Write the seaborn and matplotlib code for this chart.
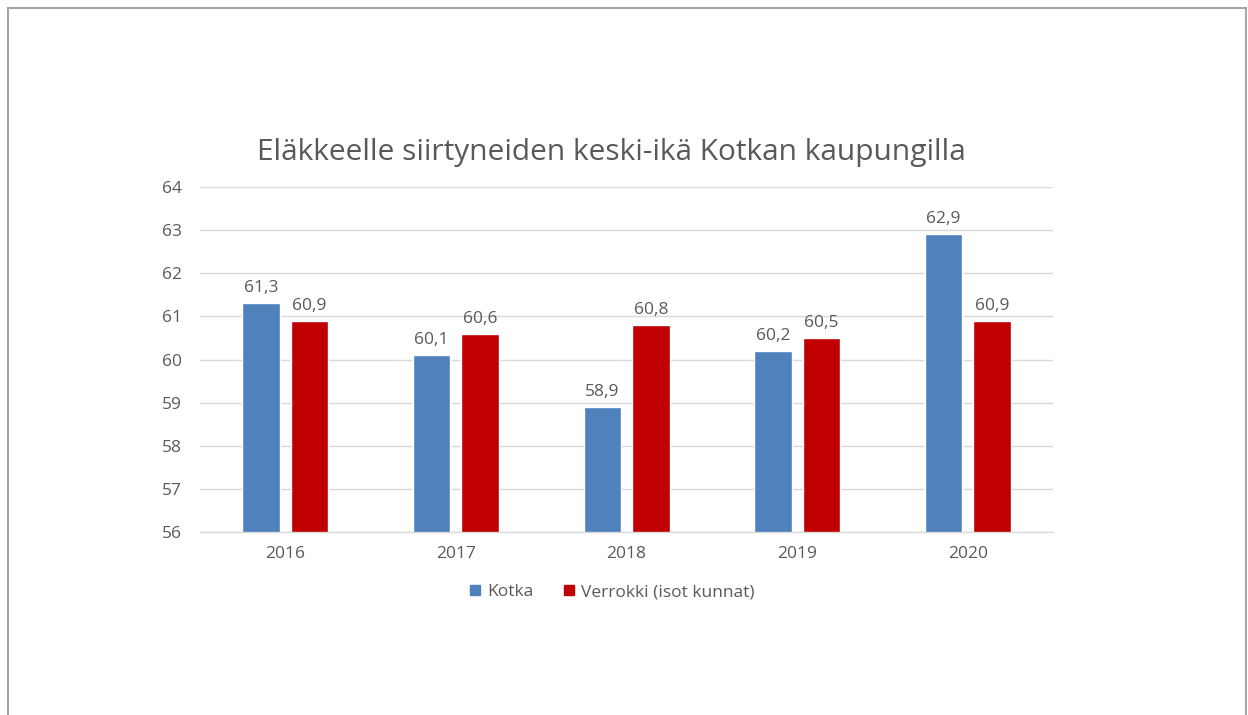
import matplotlib
matplotlib.use("Agg")
import matplotlib.pyplot as plt
import seaborn as sns
import pandas as pd
from matplotlib.patches import Rectangle
from matplotlib.lines import Line2D

years = ["2016", "2017", "2018", "2019", "2020"]
kotka = [61.3, 60.1, 58.9, 60.2, 62.9]
verrokki = [60.9, 60.6, 60.8, 60.5, 60.9]
series_names = ["Kotka", "Verrokki (isot kunnat)"]
title = "Eläkkeelle siirtyneiden keski-ikä Kotkan kaupungilla"
y_ticks = [56, 57, 58, 59, 60, 61, 62, 63, 64]

colors = ["#4F81BD", "#C00000"]
txt = "#595959"

sns.set_theme(style="white")
plt.rcParams["font.family"] = ["Open Sans", "DejaVu Sans"]

df = pd.DataFrame({
    "year": years * 2,
    "value": kotka + verrokki,
    "series": [series_names[0]] * len(years) + [series_names[1]] * len(years),
})

fig = plt.figure(figsize=(12.48, 7.15), dpi=100)
fig.patch.set_facecolor("white")
ax = fig.add_axes([0.1603, 0.2559, 0.6835, 0.4826])

sns.barplot(data=df, x="year", y="value", hue="series", palette=colors,
            width=0.569, gap=0.227, ax=ax, legend=False, saturation=1)

ax.set_ylim(56, 64)
ax.set_yticks(y_ticks)
ax.set_xlim(-0.5, len(years) - 0.5)
ax.grid(axis="y", color="#D9D9D9", linewidth=1)
ax.set_axisbelow(True)
for s in ["top", "right", "left"]:
    ax.spines[s].set_visible(False)
ax.spines["bottom"].set_color("#D9D9D9")
ax.spines["bottom"].set_linewidth(1)
ax.set_xlabel("")
ax.set_ylabel("")
ax.tick_params(axis="both", length=0, labelsize=12.5, colors=txt)
ax.tick_params(axis="y", pad=13)
ax.tick_params(axis="x", pad=10)

for cont in ax.containers:
    labels = [f"{v:.1f}".replace(".", ",") for v in cont.datavalues]
    ax.bar_label(cont, labels=labels, padding=5, fontsize=12.5, color=txt)

fig.text(0.49, 0.787, title, ha="center", va="center", fontsize=21.5, color=txt)

handles = [Line2D([0], [0], marker="s", linestyle="none", markersize=7,
                  markerfacecolor=c, markeredgecolor=c) for c in colors]
fig.legend(handles, series_names, loc="center", bbox_to_anchor=(0.49, 0.172),
           ncol=2, frameon=False, fontsize=12.5, labelcolor=txt,
           handlelength=0.7, handletextpad=0.35, columnspacing=1.7)

# screenshot frame
fig.add_artist(Rectangle((0.0065, -0.01), 0.992, 0.999, transform=fig.transFigure,
                         fill=False, edgecolor="#A6A6A6", linewidth=1.5))

fig.savefig("out.png", dpi=100, facecolor="white")
